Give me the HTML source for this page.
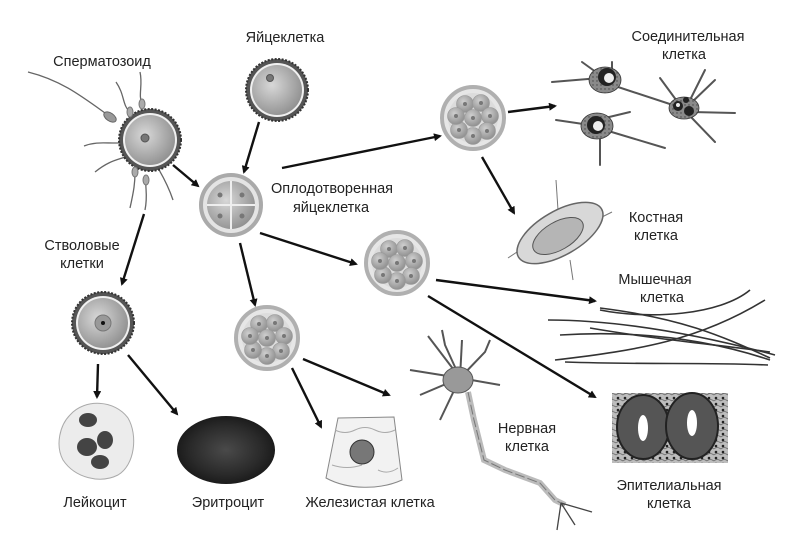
<!DOCTYPE html>
<html><head><meta charset="utf-8"><style>html,body{margin:0;padding:0;background:#fff}svg{display:block}</style></head>
<body>
<svg width="800" height="554" viewBox="0 0 800 554" xmlns="http://www.w3.org/2000/svg" font-family="Liberation Sans, DejaVu Sans, sans-serif">
<defs>
<radialGradient id="egg" cx="0.4" cy="0.4" r="0.7"><stop offset="0" stop-color="#d8d8d8"/><stop offset="1" stop-color="#8a8a8a"/></radialGradient>
<radialGradient id="cellg" cx="0.4" cy="0.35" r="0.7"><stop offset="0" stop-color="#cfcfcf"/><stop offset="1" stop-color="#8c8c8c"/></radialGradient>
<radialGradient id="rbc" cx="0.5" cy="0.5" r="0.6"><stop offset="0" stop-color="#4a4a4a"/><stop offset="0.6" stop-color="#2a2a2a"/><stop offset="1" stop-color="#111"/></radialGradient>
<pattern id="dots" width="7" height="6" patternUnits="userSpaceOnUse"><rect width="7" height="6" fill="#bdbdbd"/><circle cx="2" cy="2" r="1.3" fill="#222"/><path d="M0,5 q3,-3 7,0" stroke="#666" fill="none" stroke-width="0.8"/></pattern>
<pattern id="stip" width="4" height="4" patternUnits="userSpaceOnUse"><rect width="4" height="4" fill="#8a8a8a"/><circle cx="1" cy="1" r="0.7" fill="#444"/></pattern>
<marker id="ah" markerWidth="8" markerHeight="8" refX="6" refY="4" orient="auto" markerUnits="userSpaceOnUse"><path d="M0,0 L8,4 L0,8 z" fill="#111"/></marker>
<g id="blast">
<circle r="31" fill="#e6e6e6" stroke="#b0b0b0" stroke-width="4"/>
<circle r="25" fill="#dcdcdc"/>
<g fill="url(#cellg)" stroke="#999" stroke-width="0.6">
<circle cx="-8" cy="-14" r="8.5"/><circle cx="8" cy="-15" r="8.5"/><circle cx="17" cy="-2" r="8.5"/><circle cx="14" cy="13" r="8.5"/><circle cx="0" cy="18" r="8.5"/><circle cx="-14" cy="12" r="8.5"/><circle cx="-17" cy="-2" r="8.5"/><circle cx="0" cy="0" r="8.5"/></g>
<g fill="#777"><circle cx="-8" cy="-14" r="2"/><circle cx="8" cy="-15" r="2"/><circle cx="17" cy="-2" r="2"/><circle cx="14" cy="13" r="2"/><circle cx="0" cy="18" r="2"/><circle cx="-14" cy="12" r="2"/><circle cx="-17" cy="-2" r="2"/><circle cx="0" cy="0" r="2"/></g>
</g>
<g id="ovum">
<circle r="31" fill="#555" stroke="#333" stroke-width="2" stroke-dasharray="2 1.5"/>
<circle r="27" fill="#f0f0f0"/>
<circle r="25" fill="url(#egg)"/>
</g>
</defs>

<!-- arrows -->
<g stroke="#111" stroke-width="2.4" fill="none" marker-end="url(#ah)">
<line x1="259" y1="122" x2="244" y2="172"/>
<line x1="173" y1="165" x2="198" y2="186"/>
<line x1="282" y1="168" x2="440" y2="136"/>
<line x1="260" y1="233" x2="356" y2="264"/>
<line x1="240" y1="243" x2="255" y2="305"/>
<line x1="144" y1="214" x2="122" y2="284"/>
<line x1="98" y1="364" x2="97" y2="397"/>
<line x1="128" y1="355" x2="177" y2="414"/>
<line x1="292" y1="368" x2="321" y2="427"/>
<line x1="303" y1="359" x2="389" y2="395"/>
<line x1="508" y1="112" x2="555" y2="106"/>
<line x1="482" y1="157" x2="514" y2="213"/>
<line x1="436" y1="280" x2="595" y2="301"/>
<line x1="428" y1="296" x2="595" y2="397"/>
</g>

<!-- top egg -->
<g transform="translate(277,90)"><use href="#ovum"/><circle cx="-7" cy="-12" r="3.5" fill="#777" stroke="#555"/></g>

<!-- sperm + egg -->
<g stroke="#666" stroke-width="1.3" fill="none">
<path d="M28,72 C60,80 80,95 105,113"/>
<path d="M116,82 C125,95 122,105 130,112"/>
<path d="M140,72 C143,85 138,95 142,104"/>
<path d="M84,146 C100,140 110,145 128,142"/>
<path d="M95,172 C110,160 118,160 128,156"/>
<path d="M145,210 C148,195 145,188 146,180"/>
<path d="M130,208 C134,190 135,183 135,172"/>
<path d="M173,200 C168,185 162,175 158,168"/>
</g>
<ellipse cx="110" cy="117" rx="7" ry="4" transform="rotate(35 110 117)" fill="#999" stroke="#666"/>
<g transform="translate(150,140)"><use href="#ovum"/><circle cx="-5" cy="-2" r="4" fill="#777" stroke="#555"/></g>
<g fill="#aaa" stroke="#777"><ellipse cx="135" cy="172" rx="3" ry="5"/><ellipse cx="146" cy="180" rx="3" ry="5"/><ellipse cx="130" cy="112" rx="3" ry="5"/><ellipse cx="142" cy="104" rx="3" ry="5"/></g>

<!-- fertilized -->
<g transform="translate(231,205)">
<circle r="30" fill="#e4e4e4" stroke="#aaa" stroke-width="4"/>
<circle r="24" fill="url(#egg)"/>
<line x1="-24" y1="0" x2="24" y2="0" stroke="#eee" stroke-width="2"/>
<line x1="0" y1="-24" x2="0" y2="24" stroke="#eee" stroke-width="2"/>
<g fill="#777"><circle cx="-11" cy="-10" r="2.5"/><circle cx="11" cy="-10" r="2.5"/><circle cx="-11" cy="11" r="2.5"/><circle cx="11" cy="11" r="2.5"/></g>
</g>

<use href="#blast" transform="translate(473,118)"/>
<use href="#blast" transform="translate(397,263)"/>
<use href="#blast" transform="translate(267,338)"/>

<!-- stem cell -->
<g transform="translate(103,323)"><use href="#ovum"/><circle r="8" fill="#999" stroke="#777"/><circle r="2" fill="#111"/></g>

<!-- leukocyte -->
<path d="M70,415 C85,398 115,400 128,418 C138,435 135,465 118,475 C100,484 75,478 63,460 C55,445 60,425 70,415 z" fill="#ececec" stroke="#aaa"/>
<g fill="#444"><ellipse cx="88" cy="420" rx="9" ry="7"/><ellipse cx="87" cy="447" rx="10" ry="9"/><ellipse cx="105" cy="440" rx="8" ry="9"/><ellipse cx="100" cy="462" rx="9" ry="7"/></g>

<!-- erythrocyte -->
<ellipse cx="226" cy="450" rx="49" ry="34" fill="url(#rbc)"/>

<!-- glandular -->
<path d="M338,418 L394,417 L402,480 C380,490 348,490 326,478 Z" fill="#f2f2f2" stroke="#888"/>
<circle cx="362" cy="452" r="12" fill="#777" stroke="#333"/>
<g stroke="#aaa" fill="none"><path d="M335,430 q10,5 20,0 q10,-5 20,0 q10,5 20,0"/><path d="M332,465 q15,5 30,0"/><path d="M378,470 q10,5 20,-2"/></g>

<!-- neuron -->
<g stroke="#555" stroke-width="2" fill="none">
<path d="M460,378 L428,336"/><path d="M460,378 L445,345 L442,330"/><path d="M460,378 L462,340"/><path d="M460,378 L485,352 L490,340"/><path d="M460,378 L500,385"/><path d="M460,378 L420,395"/><path d="M460,378 L440,420"/><path d="M460,378 L410,370"/>
</g>
<ellipse cx="458" cy="380" rx="15" ry="13" fill="#999" stroke="#555"/>
<path d="M468,392 L474,420 L484,460 L505,470 L540,483 L555,500 L565,505" stroke="#bbb" stroke-width="6" fill="none"/>
<path d="M468,392 L474,420 L484,460 L505,470 L540,483 L555,500 L565,505" stroke="#777" stroke-width="1" fill="none" stroke-dasharray="10 3"/>
<g stroke="#444" stroke-width="1.3" fill="none"><path d="M561,503 L557,530"/><path d="M561,503 L575,525"/><path d="M561,503 L592,512"/></g>

<!-- connective cells -->
<g stroke="#555" stroke-width="2" fill="none" stroke-linecap="round">
<path d="M552,82 L600,78"/><path d="M582,62 L600,75"/><path d="M612,72 L612,62"/><path d="M612,85 L682,108"/>
<path d="M556,120 L590,125"/><path d="M600,132 L600,165"/><path d="M605,130 L665,148"/><path d="M605,118 L630,112"/>
<path d="M682,108 L660,78"/><path d="M688,104 L705,70"/><path d="M690,104 L715,80"/><path d="M692,112 L735,113"/><path d="M690,116 L715,142"/>
</g>
<g fill="url(#stip)" stroke="#333" stroke-width="0.8">
<ellipse cx="605" cy="80" rx="16" ry="13"/>
<ellipse cx="597" cy="126" rx="16" ry="13"/>
<ellipse cx="684" cy="108" rx="15" ry="11"/>
</g>
<g fill="#222"><circle cx="607" cy="77" r="9"/><circle cx="596" cy="125" r="9"/><circle cx="678" cy="106" r="5"/><circle cx="689" cy="111" r="5"/><circle cx="686" cy="100" r="3"/></g>
<g fill="#eee"><circle cx="609" cy="78" r="5"/><circle cx="598" cy="126" r="5"/><circle cx="678" cy="105" r="2"/></g>

<!-- bone -->
<g stroke="#777" fill="none"><path d="M558,210 L556,180"/><path d="M520,250 L508,258"/><path d="M570,260 L573,280"/><path d="M600,218 L612,212"/></g>
<ellipse cx="560" cy="233" rx="48" ry="22" transform="rotate(-30 560 233)" fill="#d8d8d8" stroke="#666" stroke-width="1.5"/>
<ellipse cx="558" cy="236" rx="28" ry="14" transform="rotate(-30 558 236)" fill="#b5b5b5" stroke="#555"/>

<!-- muscle -->
<g stroke="#333" stroke-width="1.6" fill="none">
<path d="M548,320 C620,320 700,335 775,355"/>
<path d="M560,335 C640,330 710,340 770,360"/>
<path d="M555,360 C640,350 700,340 765,300"/>
<path d="M600,310 C650,320 720,315 750,290"/>
<path d="M600,308 C680,318 720,335 770,358"/>
<path d="M565,362 C650,365 700,362 768,365"/>
<path d="M590,328 C660,340 720,345 770,352"/>
</g>

<!-- epithelial -->
<rect x="612" y="393" width="116" height="70" fill="url(#dots)"/>
<g fill="#555" stroke="#222" stroke-width="2"><ellipse cx="643" cy="427" rx="26" ry="32"/><ellipse cx="692" cy="426" rx="26" ry="33"/></g>
<g fill="#fff"><ellipse cx="643" cy="428" rx="5" ry="13"/><ellipse cx="692" cy="423" rx="5" ry="13"/></g>

<!-- labels -->
<g font-size="14.5" fill="#222" text-anchor="middle">
<text x="102" y="66">Сперматозоид</text>
<text x="285" y="42">Яйцеклетка</text>
<text x="332" y="193">Оплодотворенная</text>
<text x="331" y="212">яйцеклетка</text>
<text x="82" y="250">Стволовые</text>
<text x="82" y="268">клетки</text>
<text x="688" y="41">Соединительная</text>
<text x="684" y="59">клетка</text>
<text x="656" y="222">Костная</text>
<text x="656" y="240">клетка</text>
<text x="655" y="284">Мышечная</text>
<text x="662" y="302">клетка</text>
<text x="527" y="433">Нервная</text>
<text x="527" y="451">клетка</text>
<text x="669" y="490">Эпителиальная</text>
<text x="669" y="508">клетка</text>
<text x="95" y="507">Лейкоцит</text>
<text x="228" y="507">Эритроцит</text>
<text x="370" y="507">Железистая клетка</text>
</g>
</svg>
</body></html>
